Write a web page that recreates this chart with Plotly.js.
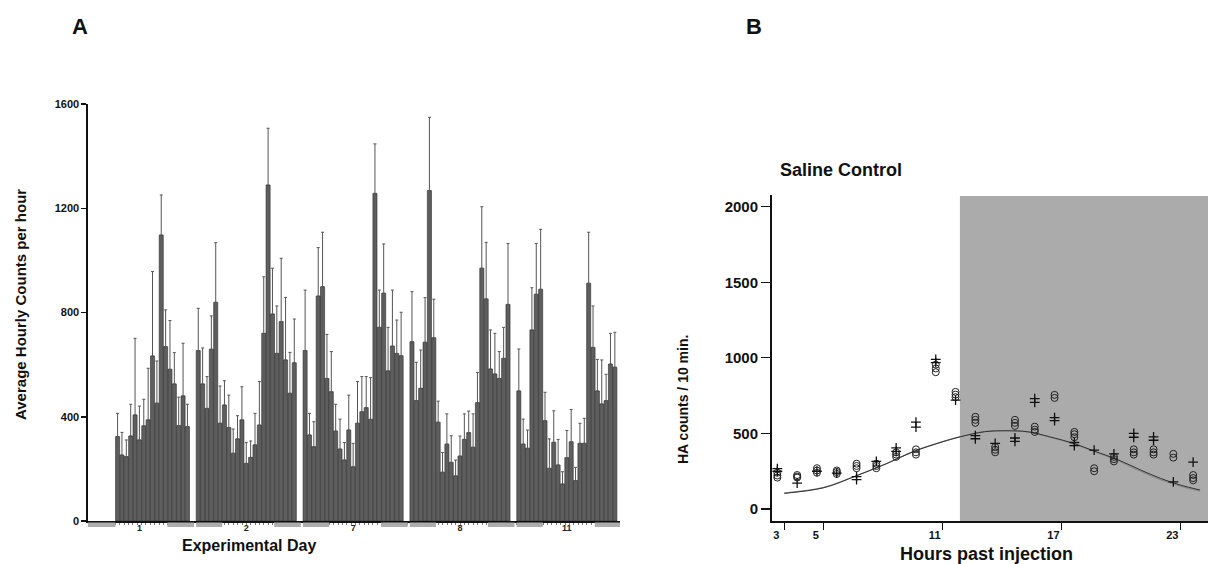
<!DOCTYPE html>
<html><head><meta charset="utf-8">
<script src="https://cdn.plot.ly/plotly-3.0.1.min.js"></script>
<style>html,body{margin:0;padding:0;background:#fff}#chart{width:1208px;height:564px}</style>
</head><body><div id="chart"></div>
<script>
// ---------- Panel A data ----------
const dayLabels = ['1', '2', '7', '8', '11'];
const firstHour = [6, 0, 0, 0, 0];
const day1Means = [324,253,247,326,407,311,365,388,633,452,1097,669,582,526,366,480,362];
const day1Tops  = [413,340,311,448,701,441,467,586,957,614,1251,810,769,646,475,682,448];
const day2Means = [654,526,432,659,839,375,445,359,260,315,388,221,244,292,368,720,1289,794,643,765,618,490,607];
const day2Tops  = [816,664,554,787,1068,518,538,483,353,404,515,301,307,413,535,937,1507,970,825,1008,858,647,775];
const day7Means = [654,330,285,863,899,547,496,345,276,234,349,208,375,419,435,390,1257,743,874,576,671,643,634];
const day7Tops  = [886,413,381,1049,1108,716,650,448,391,301,483,298,535,554,554,550,1447,886,1063,743,886,771,801];
const day8Means = [688,462,509,686,1268,703,379,187,295,225,173,249,313,339,283,454,970,852,583,564,547,624,831];
const day8Tops  = [880,609,656,857,1549,851,460,263,411,327,234,326,411,422,411,570,1206,1069,733,720,650,743,1065];
const day11Means = [499,295,279,733,870,889,385,202,302,215,142,243,304,155,298,298,912,666,499,449,462,602,590];
const day11Tops  = [660,391,349,895,1065,1119,494,315,423,313,189,347,428,206,375,394,1108,825,620,618,563,720,724];
const yTicksA = [0, 400, 800, 1200, 1600];
// dark-phase (lights off) hours within each day
const darkStarts = [-0.5, 17.4];
const darkEnds = [5.5, 23.5];

// ---------- Panel B data ----------
const sampleHours = [2.65,3.65,4.65,5.65,6.65,7.65,8.65,9.65,10.65,11.65,12.65,13.65,14.65,15.65,16.65,17.65,18.65,19.65,20.65,21.65,22.65,23.65];
const circleVals = [[240,222,208],[225,215,208],[270,255,240],[255,245,232],[300,285,270],[300,285,270],[375,360,345],[395,375,360],[955,930,905],[775,757,740],[610,590,570],[410,392,375],[590,570,550],[545,525,510],[755,735],[510,495,475],[270,250],[345,330,315],[395,375,360],[395,375,360],[365,340],[225,205,190]];
const plusVals = [[268,250],[172],[250],[238],[215,195],[315],[405,382],[575,542],[990,968],[720],[485,465],[435],[470,448],[730,705],[605,585],[440,420],[390],[365],[500,475],[478,455],[180],[310]];
const fitHours = [3, 5, 6.65, 8.2, 9.5, 11, 11.9, 13.1, 14.25, 15.3, 16.4, 17.6, 18.6, 19.8, 21, 22, 23, 24];
const fitVals  = [104, 141, 220, 302, 379, 445, 478, 511, 518, 511, 478, 435, 386, 329, 258, 203, 159, 126];
const fitVals2 = [106, 143, 222, 303, 380, 446, 479, 512, 518, 510, 476, 432, 382, 323, 250, 195, 152, 118];
const xTicksB = [3, 5, 11, 17, 23];
const yTicksB = [0, 500, 1000, 1500, 2000];
const darkStartB = 11.87;

// ---------- build ----------
const DAY = 24.48;
const daysMeans = [day1Means, day2Means, day7Means, day8Means, day11Means];
const daysTops = [day1Tops, day2Tops, day7Tops, day8Tops, day11Tops];
const bx = [], by = [], be = [], bem = [];
daysMeans.forEach((m, d) => {
  m.forEach((v, i) => {
    bx.push(d * DAY + firstHour[d] + i);
    by.push(v);
    be.push(daysTops[d][i] - v);
    bem.push(0);
  });
});
const dayCenters = dayLabels.map((_, d) => d * DAY + 11);

const FONT = 'Liberation Sans, Arial, Helvetica, sans-serif';
const traces = [];
traces.push({
  type: 'bar', x: bx, y: by, xaxis: 'x', yaxis: 'y',
  marker: {color: '#5e5e5e', line: {color: '#2e2e2e', width: 0.6}},
  error_y: {type: 'data', symmetric: false, array: be, arrayminus: bem, color: '#555', thickness: 1, width: 1.5},
  hoverinfo: 'skip'
});

const cx = [], cy = [], px = [], py = [];
sampleHours.forEach((h, i) => {
  circleVals[i].forEach(v => { cx.push(h); cy.push(v); });
  plusVals[i].forEach(v => { px.push(h); py.push(v); });
});
traces.push({type: 'scatter', mode: 'lines', x: fitHours, y: fitVals2, xaxis: 'x2', yaxis: 'y2',
  line: {color: '#8a8a8a', width: 1.2, shape: 'spline'}, hoverinfo: 'skip'});
traces.push({type: 'scatter', mode: 'lines', x: fitHours, y: fitVals, xaxis: 'x2', yaxis: 'y2',
  line: {color: '#333', width: 1, shape: 'spline'}, hoverinfo: 'skip'});
traces.push({type: 'scatter', mode: 'markers', x: cx, y: cy, xaxis: 'x2', yaxis: 'y2',
  marker: {symbol: 'circle-open', size: 7, color: '#222', line: {width: 1, color: '#222'}}, hoverinfo: 'skip'});
traces.push({type: 'scatter', mode: 'markers', x: px, y: py, xaxis: 'x2', yaxis: 'y2',
  marker: {symbol: 'cross-thin-open', size: 7, color: '#111', line: {width: 1.3, color: '#111'}}, hoverinfo: 'skip'});

const shapes = [];
dayLabels.forEach((_, d) => {
  darkStarts.forEach((s, k) => {
    let x0 = d * DAY + s;
    if (d === 0 && k === 0) x0 = -0.78;
    shapes.push({type: 'rect', xref: 'x', yref: 'paper', x0: x0, x1: d * DAY + darkEnds[k],
      y0: 1 - 527 / 564, y1: 1 - 522.5 / 564, fillcolor: '#adadad', line: {width: 0}, layer: 'above'});
  });
});
shapes.push({type: 'rect', xref: 'x2', yref: 'y2', x0: darkStartB, x1: 24.6, y0: -79, y1: 2070,
  fillcolor: '#ababab', line: {width: 0}, layer: 'below'});

const P = (py) => 1 - py / 564;
const ann = (text, x, y, size, extra) => Object.assign({text: text, xref: 'paper', yref: 'paper', x: x / 1208, y: P(y),
  showarrow: false, xanchor: 'center', yanchor: 'middle', font: {family: FONT, size: size, color: '#111', weight: 'bold'}}, extra || {});

const layout = {
  width: 1208, height: 564,
  margin: {l: 0, r: 0, t: 0, b: 0},
  paper_bgcolor: '#fff', plot_bgcolor: 'rgba(0,0,0,0)',
  showlegend: false, bargap: 0.06,
  font: {family: FONT, color: '#111'},
  xaxis: {domain: [88 / 1208, 620 / 1208], range: [-0.78, 121.1], anchor: 'y',
    showline: true, linecolor: '#111', linewidth: 2, showgrid: false, zeroline: false,
    tickvals: dayCenters, ticktext: dayLabels, ticks: '', ticklabelstandoff: -3,
    tickfont: {size: 9, weight: 'bold', color: '#222'},
    minor: {dtick: 1, tick0: -0.5, ticks: 'outside', ticklen: 2, tickcolor: '#777', tickwidth: 1}},
  yaxis: {domain: [P(521), P(104)], range: [0, 1600], anchor: 'x',
    showline: true, linecolor: '#111', linewidth: 1.6, showgrid: false, zeroline: false,
    tickvals: yTicksA, ticks: 'outside', ticklen: 5, tickwidth: 1.5, tickcolor: '#111',
    tickfont: {size: 11, weight: 'bold', color: '#111'}},
  xaxis2: {domain: [772 / 1208, 1], range: [2.38, 24.4], anchor: 'y2',
    showline: true, linecolor: '#111', linewidth: 2, showgrid: false, zeroline: false,
    tickvals: xTicksB, ticks: 'outside', ticklen: 7, tickwidth: 1.2, tickcolor: '#111', ticklabelshift: -8,
    ticklabelstandoff: -4,
    tickfont: {size: 11, weight: 'bold', color: '#111'}},
  yaxis2: {domain: [P(521), P(195)], range: [-79, 2077], anchor: 'x2',
    showline: true, linecolor: '#111', linewidth: 2, showgrid: false, zeroline: false,
    tickvals: yTicksB, ticks: 'outside', ticklen: 9, tickwidth: 1.2, tickcolor: '#111',
    tickfont: {size: 15, weight: 'bold', color: '#111'}},
  shapes: shapes,
  annotations: [
    ann('A', 80, 26, 22),
    ann('B', 754, 26, 22),
    ann('Average Hourly Counts per hour', 20, 305, 15, {textangle: -90}),
    ann('Experimental Day', 249, 545, 16),
    ann('Saline Control', 841, 170, 18),
    ann('HA counts / 10 min.', 683, 400, 14, {textangle: -90}),
    ann('Hours past injection', 986, 554, 18)
  ]
};

Plotly.newPlot('chart', traces, layout, {staticPlot: true, displayModeBar: false});
</script></body></html>
